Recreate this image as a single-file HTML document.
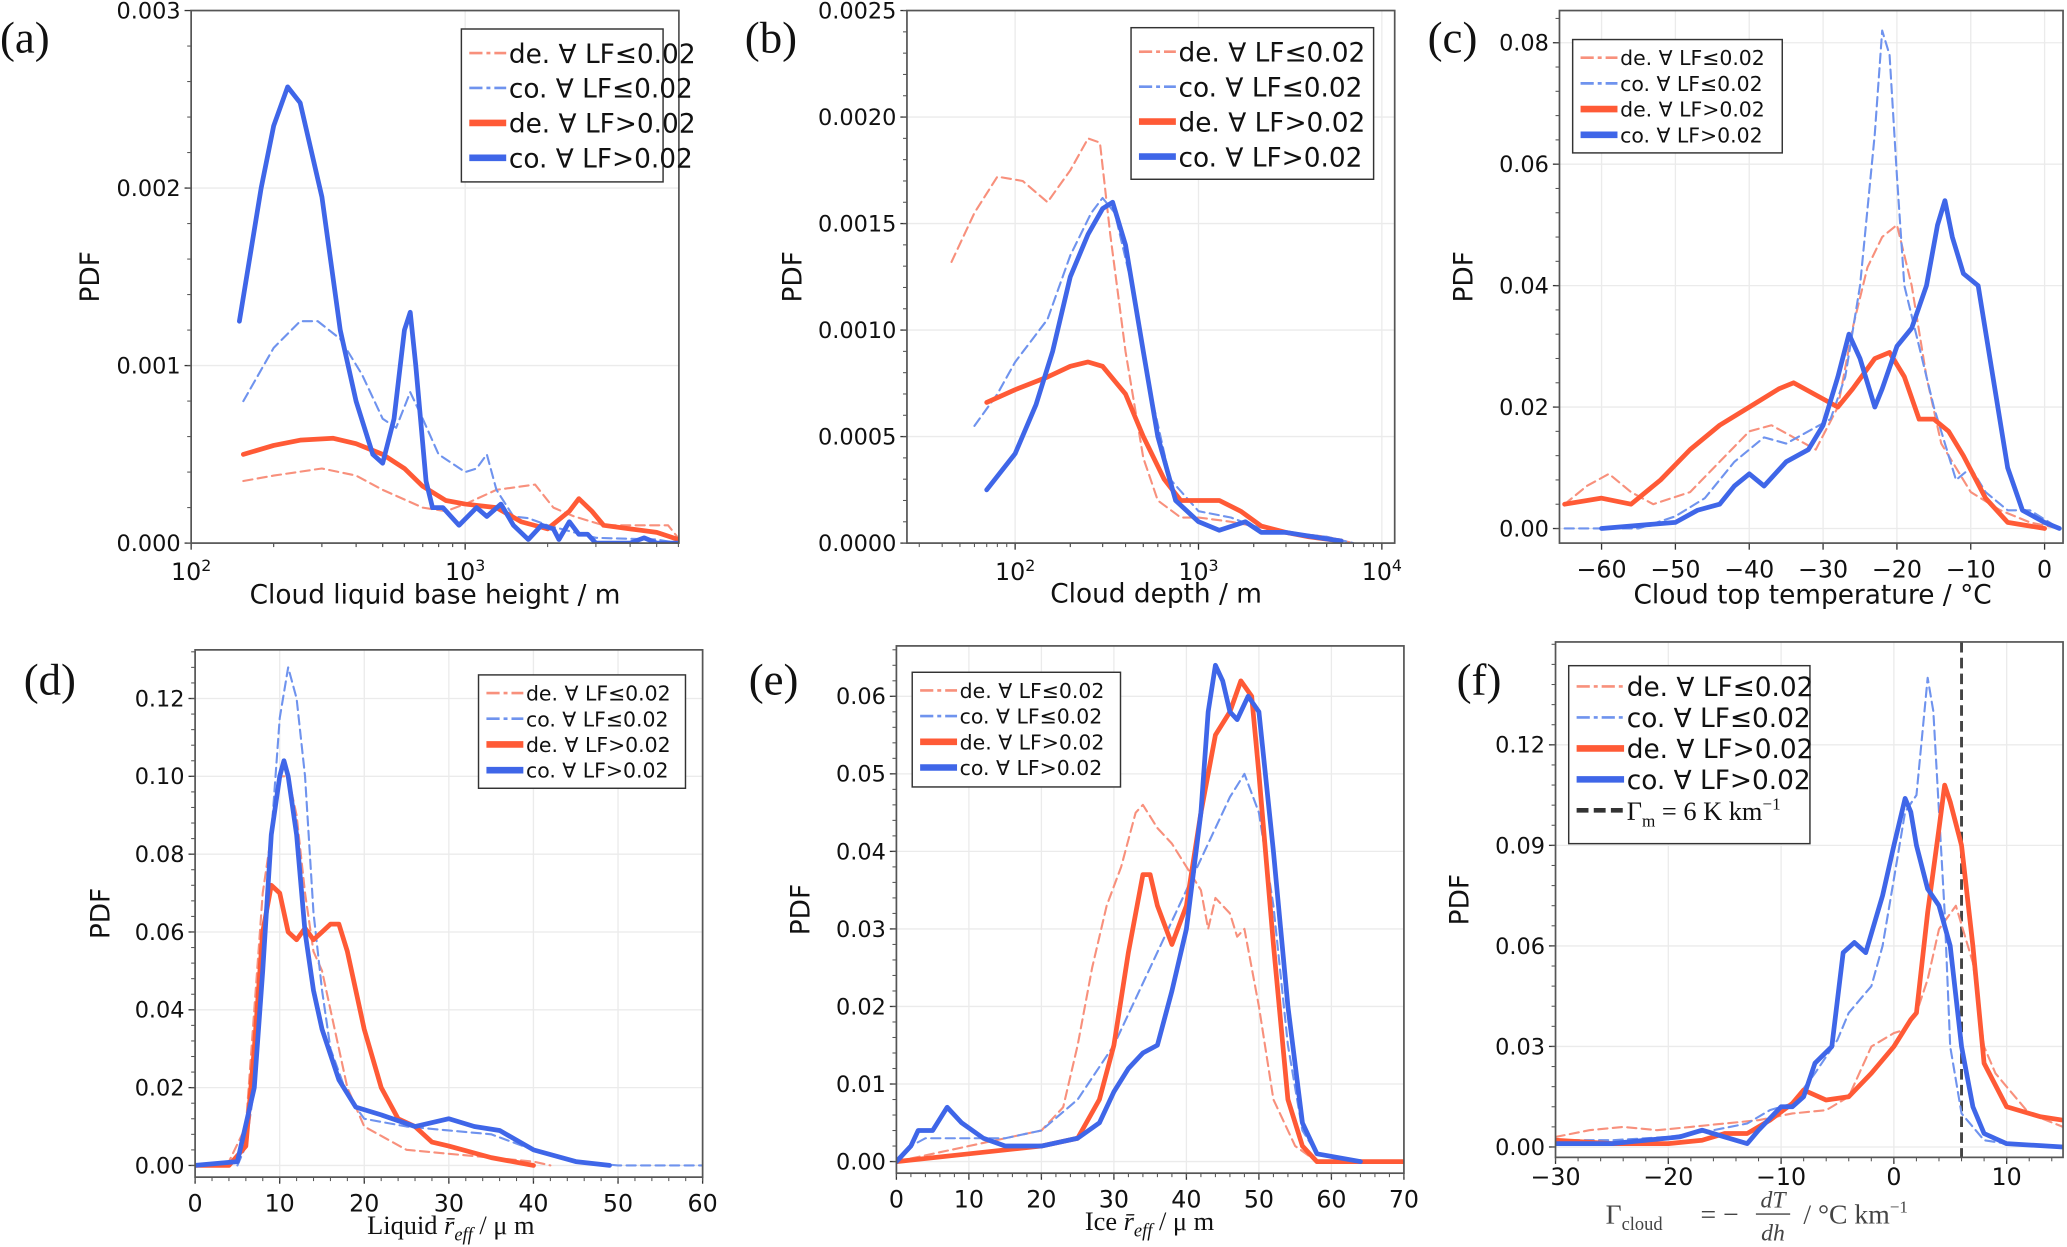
<!DOCTYPE html>
<html><head><meta charset="utf-8"><style>
html,body{margin:0;padding:0;background:#fff;}
svg{display:block;font-family:"DejaVu Sans","Liberation Sans",sans-serif;}
</style></head><body>
<svg id="fig" width="2067" height="1247" viewBox="0 0 1568 946" preserveAspectRatio="none" xmlns="http://www.w3.org/2000/svg"></svg>
<script>
// ---- data (x, PDF) ----
const a_deLow=[[155,0.35e-3],[200,0.38e-3],[300,0.42e-3],[400,0.38e-3],[500,0.3e-3],[700,0.2e-3],[850,0.18e-3],[1000,0.22e-3],[1300,0.3e-3],[1800,0.33e-3],[2100,0.2e-3],[2500,0.15e-3],[3200,0.1e-3],[4000,0.1e-3],[5500,0.1e-3],[6200,0]];
const a_coLow=[[155,0.8e-3],[200,1.1e-3],[250,1.25e-3],[290,1.25e-3],[350,1.15e-3],[420,0.95e-3],[500,0.7e-3],[560,0.65e-3],[630,0.85e-3],[700,0.7e-3],[800,0.5e-3],[1000,0.4e-3],[1100,0.42e-3],[1200,0.5e-3],[1300,0.3e-3],[1500,0.15e-3],[1700,0.14e-3],[2000,0.1e-3],[2500,0.06e-3],[3000,0.03e-3],[5000,0.02e-3],[6000,0]];
const a_deHigh=[[155,0.5e-3],[200,0.55e-3],[250,0.58e-3],[330,0.59e-3],[400,0.56e-3],[500,0.5e-3],[600,0.42e-3],[700,0.32e-3],[850,0.24e-3],[1000,0.22e-3],[1300,0.2e-3],[1600,0.12e-3],[2000,0.08e-3],[2400,0.18e-3],[2600,0.25e-3],[2900,0.18e-3],[3200,0.1e-3],[4000,0.08e-3],[5000,0.06e-3],[6000,0.02e-3]];
const a_coHigh=[[150,1.25e-3],[180,2.0e-3],[200,2.35e-3],[225,2.57e-3],[250,2.48e-3],[300,1.95e-3],[350,1.2e-3],[400,0.8e-3],[460,0.5e-3],[500,0.45e-3],[550,0.7e-3],[600,1.2e-3],[630,1.3e-3],[660,1.0e-3],[720,0.35e-3],[760,0.2e-3],[830,0.2e-3],[950,0.1e-3],[1100,0.2e-3],[1200,0.15e-3],[1350,0.22e-3],[1500,0.1e-3],[1700,0.02e-3],[1900,0.1e-3],[2100,0.08e-3],[2200,0.02e-3],[2400,0.12e-3],[2600,0.05e-3],[2800,0.05e-3],[3000,0],[4000,0],[4500,0.03e-3],[5000,0],[6000,0]];

const b_deLow=[[45,1.32e-3],[60,1.55e-3],[80,1.72e-3],[110,1.7e-3],[150,1.6e-3],[200,1.75e-3],[250,1.9e-3],[290,1.88e-3],[330,1.45e-3],[400,0.9e-3],[500,0.4e-3],[600,0.2e-3],[800,0.12e-3],[1000,0.12e-3],[1500,0.1e-3],[2000,0.08e-3],[3000,0.05e-3],[5000,0.03e-3],[7000,0]];
const b_coLow=[[60,0.55e-3],[80,0.7e-3],[100,0.85e-3],[150,1.05e-3],[200,1.35e-3],[260,1.55e-3],[300,1.62e-3],[350,1.55e-3],[450,1.15e-3],[550,0.7e-3],[700,0.3e-3],[1000,0.15e-3],[1500,0.12e-3],[2000,0.08e-3],[3000,0.05e-3],[5000,0.03e-3],[7000,0]];
const b_deHigh=[[70,0.66e-3],[100,0.72e-3],[150,0.78e-3],[200,0.83e-3],[250,0.85e-3],[300,0.83e-3],[400,0.7e-3],[500,0.5e-3],[650,0.3e-3],[800,0.2e-3],[1000,0.2e-3],[1300,0.2e-3],[1700,0.15e-3],[2200,0.08e-3],[3000,0.05e-3],[4000,0.03e-3],[6000,0.01e-3]];
const b_coHigh=[[70,0.25e-3],[100,0.42e-3],[130,0.65e-3],[160,0.9e-3],[200,1.25e-3],[250,1.45e-3],[300,1.57e-3],[340,1.6e-3],[400,1.4e-3],[500,0.9e-3],[600,0.5e-3],[750,0.2e-3],[1000,0.1e-3],[1300,0.06e-3],[1800,0.1e-3],[2200,0.05e-3],[3000,0.05e-3],[5000,0.02e-3],[6000,0.01e-3]];

const c_deLow=[[-65,0.004],[-62,0.007],[-59,0.009],[-56,0.006],[-53,0.004],[-48,0.006],[-44,0.011],[-40,0.016],[-37,0.017],[-34,0.015],[-31,0.013],[-28,0.02],[-26,0.033],[-24,0.043],[-22,0.048],[-20,0.05],[-18,0.04],[-16,0.025],[-14,0.014],[-12,0.01],[-10,0.006],[-6,0.003],[-2,0.001],[2,0]];
const c_coLow=[[-65,0],[-55,0],[-50,0.002],[-46,0.005],[-42,0.011],[-38,0.015],[-35,0.014],[-32,0.016],[-29,0.018],[-27,0.025],[-25,0.04],[-23,0.065],[-22,0.082],[-21,0.078],[-20,0.058],[-19,0.04],[-17,0.03],[-15,0.02],[-12,0.008],[-10,0.01],[-8,0.006],[-5,0.003],[-2,0.003],[2,0]];
const c_deHigh=[[-65,0.004],[-60,0.005],[-56,0.004],[-52,0.008],[-48,0.013],[-44,0.017],[-40,0.02],[-36,0.023],[-34,0.024],[-31,0.022],[-28,0.02],[-26,0.023],[-23,0.028],[-21,0.029],[-19,0.025],[-17,0.018],[-15,0.018],[-13,0.016],[-11,0.012],[-8,0.005],[-5,0.001],[0,0]];
const c_coHigh=[[-60,0],[-50,0.001],[-47,0.003],[-44,0.004],[-42,0.007],[-40,0.009],[-38,0.007],[-35,0.011],[-32,0.013],[-30,0.017],[-28,0.025],[-26.5,0.032],[-25,0.028],[-23,0.02],[-22,0.023],[-20,0.03],[-18,0.033],[-16,0.04],[-14.5,0.05],[-13.5,0.054],[-12.5,0.048],[-11,0.042],[-9,0.04],[-7,0.025],[-5,0.01],[-3,0.003],[0,0.001],[2,0]];

const d_deLow=[[0,0],[4,0.001],[6,0.01],[7,0.04],[8,0.07],[9,0.085],[10,0.1],[11,0.1],[12,0.09],[13,0.07],[14,0.055],[15,0.05],[16,0.04],[18,0.02],[20,0.01],[25,0.004],[30,0.003],[35,0.002],[40,0.001],[42,0]];
const d_coLow=[[5,0],[6,0.005],[7,0.02],[8,0.05],[9,0.085],[10,0.115],[11,0.128],[12,0.12],[13,0.1],[14,0.065],[15,0.045],[16,0.03],[18,0.018],[20,0.012],[25,0.01],[30,0.009],[35,0.008],[40,0.004],[45,0.001],[50,0],[60,0]];
const d_deHigh=[[0,0],[4,0],[6,0.005],[7,0.03],[8,0.06],[9,0.072],[10,0.07],[11,0.06],[12,0.058],[13,0.061],[14,0.058],[15,0.06],[16,0.062],[17,0.062],[18,0.055],[20,0.035],[22,0.02],[24,0.012],[26,0.01],[28,0.006],[30,0.005],[35,0.002],[40,0]];
const d_coHigh=[[0,0],[5,0.001],[7,0.02],[8,0.05],[9,0.085],[10,0.1],[10.5,0.104],[11,0.1],[12,0.085],[13,0.06],[14,0.045],[15,0.035],[17,0.022],[19,0.015],[22,0.013],[26,0.01],[30,0.012],[33,0.01],[36,0.009],[40,0.004],[45,0.001],[49,0]];

const e_deLow=[[0,0],[5,0.001],[10,0.002],[15,0.003],[20,0.004],[23,0.007],[25,0.015],[27,0.025],[29,0.033],[31,0.038],[33,0.045],[34,0.046],[36,0.043],[38,0.041],[40,0.038],[42,0.035],[43,0.03],[44,0.034],[46,0.032],[47,0.029],[48,0.03],[50,0.02],[52,0.008],[55,0.002],[58,0]];
const e_coLow=[[0,0],[2,0.002],[4,0.003],[8,0.003],[15,0.003],[20,0.004],[25,0.008],[30,0.015],[35,0.025],[40,0.035],[44,0.043],[46,0.047],[48,0.05],[50,0.045],[52,0.033],[54,0.015],[56,0.004],[58,0.001],[62,0]];
const e_deHigh=[[0,0],[10,0.001],[20,0.002],[25,0.003],[28,0.008],[30,0.015],[32,0.027],[34,0.037],[35,0.037],[36,0.033],[38,0.028],[40,0.033],[42,0.045],[44,0.055],[46,0.058],[47.5,0.062],[49,0.06],[50,0.05],[52,0.028],[54,0.008],[56,0.002],[58,0],[70,0]];
const e_coHigh=[[0,0],[2,0.002],[3,0.004],[5,0.004],[7,0.007],[9,0.005],[12,0.003],[15,0.002],[20,0.002],[25,0.003],[28,0.005],[30,0.009],[32,0.012],[34,0.014],[36,0.015],[38,0.022],[40,0.03],[42,0.045],[43,0.058],[44,0.064],[45,0.062],[46,0.058],[47,0.057],[48.5,0.06],[50,0.058],[52,0.04],[54,0.02],[56,0.005],[58,0.001],[64,0]];

const f_deLow=[[-30,0.003],[-27,0.005],[-24,0.006],[-21,0.005],[-18,0.006],[-15,0.007],[-12,0.008],[-9,0.01],[-6,0.011],[-4,0.015],[-2,0.03],[0,0.034],[1,0.035],[2,0.04],[3,0.05],[4,0.065],[5.5,0.072],[7,0.055],[8,0.03],[9,0.022],[10,0.018],[12,0.01],[15,0.006]];
const f_coLow=[[-30,0.002],[-25,0.002],[-20,0.003],[-16,0.005],[-13,0.007],[-11,0.011],[-9,0.013],[-7,0.022],[-5,0.032],[-4,0.04],[-2,0.048],[-1,0.06],[0,0.08],[1,0.1],[2,0.105],[3,0.14],[3.5,0.13],[4,0.1],[4.5,0.07],[5,0.03],[6,0.01],[8,0.002],[10,0.001],[15,0]];
const f_deHigh=[[-30,0.002],[-25,0.001],[-20,0.001],[-17,0.002],[-15,0.004],[-13,0.004],[-11,0.008],[-9,0.013],[-8,0.017],[-6,0.014],[-4,0.015],[-2,0.022],[0,0.03],[1.5,0.038],[2,0.04],[3,0.07],[4,0.095],[4.5,0.108],[5,0.103],[6,0.09],[7,0.06],[8,0.025],[10,0.012],[13,0.009],[15,0.008]];
const f_coHigh=[[-30,0.001],[-25,0.001],[-22,0.002],[-19,0.003],[-17,0.005],[-15,0.003],[-13,0.001],[-12,0.005],[-10,0.012],[-9,0.012],[-8,0.015],[-7,0.025],[-5.5,0.03],[-4.5,0.058],[-3.5,0.061],[-2.5,0.058],[-1,0.075],[0,0.09],[1,0.104],[1.5,0.1],[2,0.09],[3,0.077],[4,0.072],[5,0.06],[6,0.03],[7,0.012],[8,0.004],[10,0.001],[15,0]];

// ticks
const a_yTicks=[0,0.001,0.002,0.003]; const a_yLabels=["0.000","0.001","0.002","0.003"];
const b_yTicks=[0,0.0005,0.001,0.0015,0.002,0.0025]; const b_yLabels=["0.0000","0.0005","0.0010","0.0015","0.0020","0.0025"];
const c_yTicks=[0,0.02,0.04,0.06,0.08]; const c_yLabels=["0.00","0.02","0.04","0.06","0.08"];
const c_xTicks=[-60,-50,-40,-30,-20,-10,0]; const c_xLabels=["−60","−50","−40","−30","−20","−10","0"];
const d_yTicks=[0,0.02,0.04,0.06,0.08,0.1,0.12]; const d_yLabels=["0.00","0.02","0.04","0.06","0.08","0.10","0.12"];
const d_xTicks=[0,10,20,30,40,50,60]; const d_xLabels=["0","10","20","30","40","50","60"];
const e_yTicks=[0,0.01,0.02,0.03,0.04,0.05,0.06]; const e_yLabels=["0.00","0.01","0.02","0.03","0.04","0.05","0.06"];
const e_xTicks=[0,10,20,30,40,50,60,70]; const e_xLabels=["0","10","20","30","40","50","60","70"];
const f_yTicks=[0,0.03,0.06,0.09,0.12]; const f_yLabels=["0.00","0.03","0.06","0.09","0.12"];
const f_xTicks=[-30,-20,-10,0,10]; const f_xLabels=["−30","−20","−10","0","10"];
const logTicks=[2,3,4];
const f_vline=[6];

const NS="http://www.w3.org/2000/svg";
const svg=document.getElementById('fig');
function el(tag,attrs,parent){const e=document.createElementNS(NS,tag);for(const k in attrs)e.setAttribute(k,attrs[k]);(parent||svg).appendChild(e);return e;}
const RED="#ff5a36",BLUE="#3f66e8",RED_L="#f8907c",BLUE_L="#6f93ee";

function panel(p){
  const g=el('g',{});
  
  
  const sx=v=>{const t=p.log?Math.log10(v):v;return p.x0+(t-p.xmin)/(p.xmax-p.xmin)*(p.x1-p.x0);};
  const sy=v=>p.y1-(v-p.ymin)/(p.ymax-p.ymin)*(p.y1-p.y0);
  const xlo=p.xlOff||26;
  p.yTicks.forEach((t,i)=>{
    const y=sy(t);
    const gl=el('line',{x1:p.x0,x2:p.x1,y1:y,y2:y,stroke:"#ebebeb","stroke-width":1},g);
    
    
    el('line',{x1:p.x0-5,x2:p.x0,y1:y,y2:y,stroke:"#333","stroke-width":1},g);
    const tx=el('text',{x:p.x0-8,y:y+6,"text-anchor":"end","font-size":17,fill:"#111"},g);
    tx.textContent=p.yLabels[i];
    
    
  });
  const step=(p.yTicks[1]-p.yTicks[0])/5;
  for(let v=p.ymin<0?0:p.ymin;v<=p.ymax;v+=step){const y=sy(v);if(y>=p.y0&&y<=p.y1)el('line',{x1:p.x0-3,x2:p.x0,y1:y,y2:y,stroke:"#555","stroke-width":0.8},g);}
  if(p.log){
    logTicks.forEach(k=>{
      const x=sx(Math.pow(10,k)); if(x<p.x0-1||x>p.x1+1)return;
      el('line',{x1:x,x2:x,y1:p.y0,y2:p.y1,stroke:"#ebebeb","stroke-width":1},g);
      el('line',{x1:x,x2:x,y1:p.y1,y2:p.y1+5,stroke:"#333"},g);
      const t=el('text',{x:x,y:p.y1+28,"text-anchor":"middle","font-size":18,fill:"#111"},g);
      t.textContent="10"; const s=el('tspan',{dy:-7,"font-size":12},t); s.textContent=String(k);
      
      
      for(let m=2;m<10;m++){const xm=sx(m*Math.pow(10,k));if(xm>p.x0&&xm<p.x1)el('line',{x1:xm,x2:xm,y1:p.y1,y2:p.y1+3,stroke:"#555","stroke-width":0.8},g);}
      for(let m=2;m<10;m++){const xm=sx(m*Math.pow(10,k-1));if(xm>p.x0&&xm<p.x1)el('line',{x1:xm,x2:xm,y1:p.y1,y2:p.y1+3,stroke:"#555","stroke-width":0.8},g);}
    });
  } else {
    p.xTicks.forEach((t,i)=>{
      const x=sx(t);
      el('line',{x1:x,x2:x,y1:p.y0,y2:p.y1,stroke:"#ebebeb","stroke-width":1},g);
      el('line',{x1:x,x2:x,y1:p.y1,y2:p.y1+5,stroke:"#333"},g);
      const tx=el('text',{x:x,y:p.y1+xlo,"text-anchor":"middle","font-size":18,fill:"#111"},g);
      tx.textContent=p.xLabels[i];
      
      
    });
    const ms=(p.xTicks[1]-p.xTicks[0])/5;
    for(let v=p.xmin;v<=p.xmax;v+=0.5){const r=Math.round(v/ms*1000)/1000;if(Math.abs(r-Math.round(r))<1e-6){const x=sx(v);el('line',{x1:x,x2:x,y1:p.y1,y2:p.y1+3,stroke:"#555","stroke-width":0.8},g);}}
  }
  const cid='clip-'+p.id;
  const cp=el('clipPath',{id:cid},g); el('rect',{x:p.x0,y:p.y0,width:p.x1-p.x0,height:p.y1-p.y0},cp);
  const cg=el('g',{"clip-path":"url(#"+cid+")"},g);
  if(p.vline){p.vline.forEach(v=>{const x=sx(v);const l=el('line',{x1:x,x2:x,y1:p.y0,y2:p.y1,stroke:"#444","stroke-width":2.2,"stroke-dasharray":"8,4"},cg);
    
    });}
  const series=[[p.s[0],RED_L,1.6,"7,4","de-lf-low"],[p.s[1],BLUE_L,1.6,"7,4","co-lf-low"],[p.s[2],RED,3.6,null,"de-lf-high"],[p.s[3],BLUE,3.6,null,"co-lf-high"]];
  series.forEach(([d,c,w,da,nm])=>{
    const pts=d.map(q=>sx(q[0]).toFixed(1)+","+sy(q[1]).toFixed(1)).join(" ");
    const a={points:pts,fill:"none",stroke:c,"stroke-width":w,"stroke-linejoin":"round","stroke-linecap":"round"};
    if(da)a["stroke-dasharray"]=da;
    const pl=el('polyline',a,cg);
    
    
  });
  const fr=el('rect',{x:p.x0,y:p.y0,width:p.x1-p.x0,height:p.y1-p.y0,fill:"none",stroke:"#555","stroke-width":1.3},g);
  
  
  const yl=el('text',{x:0,y:0,transform:`translate(${p.x0-p.ylOff},${(p.y0+p.y1)/2}) rotate(-90)`,"text-anchor":"middle","font-size":20,fill:"#111"},g);
  yl.textContent="PDF";
  
  
  const pl=el('text',{x:p.lx,y:p.ly,"font-family":"Liberation Serif,serif","font-size":34,fill:"#111"},svg);
  pl.textContent="("+p.id+")";
  
  
  const L=p.leg;
  const lg=el('g',{},g);
  
  
  el('rect',{x:L.x,y:L.y,width:L.w,height:L.h,fill:"#fff",stroke:"#333","stroke-width":1.1},lg);
  const names=["de. ∀ LF≤0.02","co. ∀ LF≤0.02","de. ∀ LF>0.02","co. ∀ LF>0.02"];
  const cols=[RED_L,BLUE_L,RED,BLUE],ws=[2,2,5,5],das=["10,3,3,3","10,3,3,3",null,null];
  const n=p.vline?5:4;
  for(let i=0;i<n;i++){
    const yy=L.y+L.pad+L.row*(i+0.5);
    const a={x1:L.x+6,x2:L.x+6+L.hl,y1:yy,y2:yy,stroke:i<4?cols[i]:"#333","stroke-width":i<4?ws[i]:3.5};
    if(i>=4)a["stroke-dasharray"]="9,4";else if(das[i])a["stroke-dasharray"]=das[i];
    el('line',a,lg);
    const t=el('text',{x:L.x+8+L.hl,y:yy+L.fs*0.37,"font-size":L.fs,fill:"#111"},lg);
    if(i<4)t.textContent=names[i];
    else{t.setAttribute('font-family','Liberation Serif,serif');t.textContent="Γ";const s=el('tspan',{dy:5,"font-size":13},t);s.textContent="m";const s2=el('tspan',{dy:-5},t);s2.textContent=" = 6 K km";const s3=el('tspan',{dy:-8,"font-size":13},t);s3.textContent="−1";}
    
    
  }
  return {g,sx,sy};
}

const P=[
 {id:'a',x0:145,x1:515,y0:8,y1:412,log:true,xmin:2,xmax:3.78,ymin:0,ymax:0.003,yTicks:a_yTicks,yLabels:a_yLabels,s:[a_deLow,a_coLow,a_deHigh,a_coHigh],ylOff:70,lx:0,ly:40,leg:{x:350,y:22,w:153,h:116,pad:5,row:26.5,fs:20,hl:28}},
 {id:'b',x0:688,x1:1058,y0:8,y1:412,log:true,xmin:1.41,xmax:4.07,ymin:0,ymax:0.0025,yTicks:b_yTicks,yLabels:b_yLabels,s:[b_deLow,b_coLow,b_deHigh,b_coHigh],ylOff:80,lx:565,ly:40,leg:{x:858,y:21,w:184,h:115,pad:5,row:26.5,fs:20,hl:28}},
 {id:'c',x0:1183,x1:1565,y0:8,y1:412,log:false,xmin:-65.7,xmax:2.5,ymin:-0.0024,ymax:0.0853,xTicks:c_xTicks,xLabels:c_xLabels,yTicks:c_yTicks,yLabels:c_yLabels,s:[c_deLow,c_coLow,c_deHigh,c_coHigh],ylOff:66,lx:1083,ly:40,leg:{x:1193,y:30,w:159,h:86,pad:4,row:19.5,fs:15.5,hl:28}},
 {id:'d',x0:148,x1:533,y0:493,y1:893,log:false,xmin:0,xmax:60,ymin:-0.003,ymax:0.1325,xTicks:d_xTicks,xLabels:d_xLabels,yTicks:d_yTicks,yLabels:d_yLabels,s:[d_deLow,d_coLow,d_deHigh,d_coHigh],ylOff:65,lx:18,ly:527,leg:{x:363,y:512,w:157,h:86,pad:4,row:19.5,fs:15.5,hl:28}},
 {id:'e',x0:680,x1:1065,y0:490,y1:890,log:false,xmin:0,xmax:70,ymin:-0.0015,ymax:0.0665,xTicks:e_xTicks,xLabels:e_xLabels,yTicks:e_yTicks,yLabels:e_yLabels,s:[e_deLow,e_coLow,e_deHigh,e_coHigh],ylOff:66,lx:568,ly:527,leg:{x:692,y:510,w:158,h:87,pad:4,row:19.5,fs:15.5,hl:28}},
 {id:'f',x0:1180,x1:1565,y0:487,y1:878,log:false,xmin:-30,xmax:15,ymin:-0.0031,ymax:0.1507,xTicks:f_xTicks,xLabels:f_xLabels,yTicks:f_yTicks,yLabels:f_yLabels,s:[f_deLow,f_coLow,f_deHigh,f_coHigh],ylOff:66,lx:1105,ly:527,vline:f_vline,xlOff:21,leg:{x:1190,y:505,w:183,h:135,pad:4,row:23.5,fs:20,hl:36}}
];
P.forEach(panel);

function xt(x,y,txt,name,serif){const t=el('text',{x:x,y:y,"text-anchor":"middle","font-size":20,fill:"#111"});if(serif)t.setAttribute('font-family','Liberation Serif,serif');t.textContent=txt;return t;}
xt(330,458,"Cloud liquid base height / m","x-axis-title-a");
xt(877,457,"Cloud depth / m","x-axis-title-b");
xt(1375,458,"Cloud top temperature / °C","x-axis-title-c");
(function(){
 const t=xt(342,936,"Liquid ","x-axis-title-d",true);
 const r=el('tspan',{"font-style":"italic"},t); r.textContent="r̄";
 const s=el('tspan',{dy:5,"font-size":14,"font-style":"italic"},t); s.textContent="eff";
 const u=el('tspan',{dy:-5},t); u.textContent=" /  μ m";
 const t2=xt(872,933,"Ice ","x-axis-title-e",true);
 const r2=el('tspan',{"font-style":"italic"},t2); r2.textContent="r̄";
 const s2=el('tspan',{dy:5,"font-size":14,"font-style":"italic"},t2); s2.textContent="eff";
 const u2=el('tspan',{dy:-5},t2); u2.textContent=" /  μ m";
 const g=el('g',{"font-family":"Liberation Serif,serif",fill:"#444"});
 
 
 const a=el('text',{x:1218,y:928,"font-size":21},g); a.textContent="Γ";
 const b=el('tspan',{dy:5,"font-size":14},a); b.textContent="cloud";
 const c=el('text',{x:1290,y:928,"font-size":21},g); c.textContent="=  −";
 const n=el('text',{x:1345,y:916,"font-size":18,"font-style":"italic","text-anchor":"middle"},g); n.textContent="dT";
 el('line',{x1:1332,x2:1358,y1:921,y2:921,stroke:"#444","stroke-width":1},g);
 const dd=el('text',{x:1345,y:941,"font-size":18,"font-style":"italic","text-anchor":"middle"},g); dd.textContent="dh";
 const u3=el('text',{x:1368,y:928,"font-size":21},g); u3.textContent="/  °C km";
 const sup=el('tspan',{dy:-8,"font-size":13},u3); sup.textContent="−1";
})();
</script>
</body></html>
